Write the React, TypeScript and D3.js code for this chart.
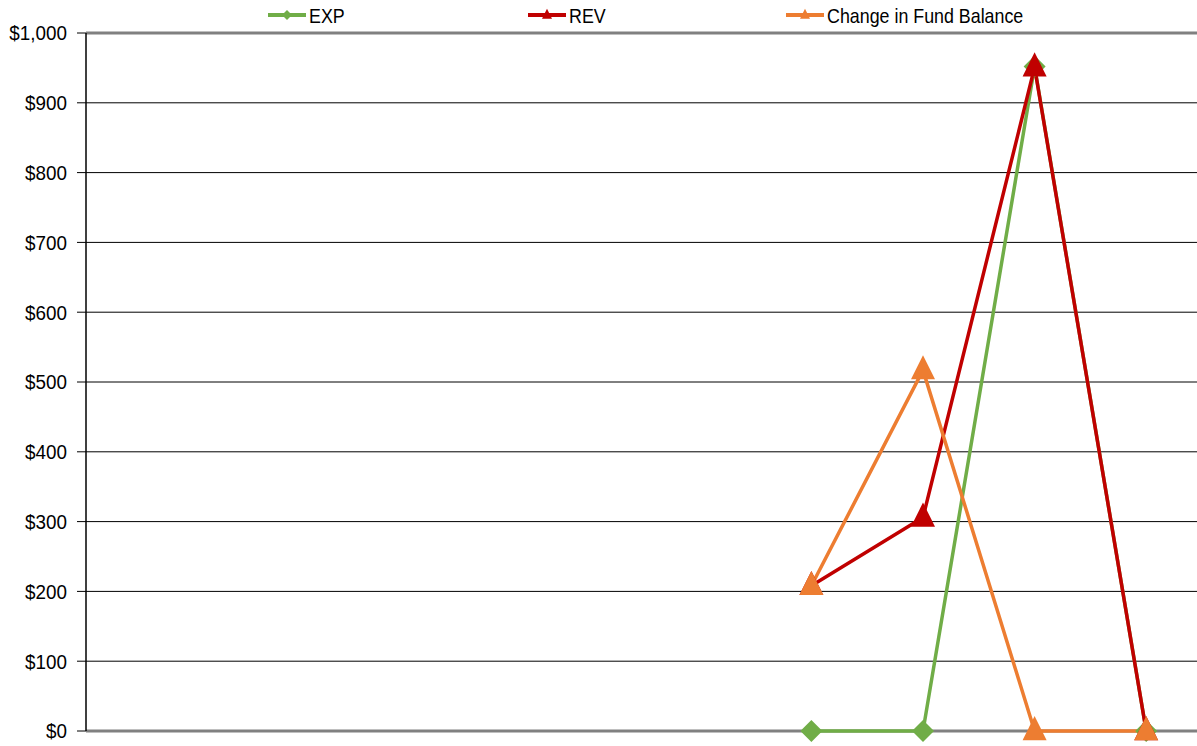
import React from "react";
import * as d3 from "d3";

const categories = ["P1", "P2", "P3", "P4", "P5", "P6", "P7", "P8", "P9", "P10"];
const expValues: (number | null)[] = [null, null, null, null, null, null, 0, 0, 952, 0];
const revValues: (number | null)[] = [null, null, null, null, null, null, 208, 306, 951, 0];
const fundValues: (number | null)[] = [null, null, null, null, null, null, 208, 517, 0, 0];
const yTicks = [0, 100, 200, 300, 400, 500, 600, 700, 800, 900, 1000];

const series = [
  { name: "EXP", values: expValues, color: "#70AD47", marker: "diamond" },
  { name: "REV", values: revValues, color: "#C00000", marker: "triangle" },
  { name: "Change in Fund Balance", values: fundValues, color: "#ED7D31", marker: "triangle" },
];

const W = 1197;
const H = 746;
const left = 86;
const right = 1202;
const top = 33;
const bottom = 731;

export default function App() {
  const x = d3.scaleBand<string>().domain(categories).range([left, right]);
  const y = d3.scaleLinear().domain([0, 1000]).range([bottom, top]);
  const cx = (c: string) => (x(c) as number) + x.bandwidth() / 2;
  const fmt = (v: number) => "$" + d3.format(",")(v);

  const markerPath = (type: string, size: number) => {
    if (type === "diamond") {
      const h = size / 2;
      return `M0,${-h}L${h},0L0,${h}L${-h},0Z`;
    }
    const w = size / 2;
    const hh = size * 0.62;
    return `M0,${-hh}L${w},${hh * 0.62}L${-w},${hh * 0.62}Z`;
  };

  const legendItems = [
    { s: series[0], x: 268 },
    { s: series[1], x: 528 },
    { s: series[2], x: 786 },
  ];

  return (
    <svg width={W} height={H} style={{ position: "absolute", left: 0, top: 0, background: "#fff" }} fontFamily="'Liberation Sans', Arial, sans-serif">
      {/* gridlines */}
      {yTicks.map((t) => {
        const yy = y(t);
        const isEdge = t === 0 || t === 1000;
        return (
          <line key={t} x1={left} x2={W} y1={yy} y2={yy}
            stroke={isEdge ? "#808080" : "#000"} strokeWidth={isEdge ? 3 : 1} />
        );
      })}
      {/* y axis */}
      <line x1={left} x2={left} y1={top} y2={bottom} stroke="#000" strokeWidth={1.5} />
      {yTicks.map((t) => (
        <g key={"t" + t}>
          <line x1={left - 9} x2={left} y1={y(t)} y2={y(t)} stroke="#000" strokeWidth={1} />
          <text transform={`translate(67,${y(t)}) scale(0.92,1)`} dy="0.36em" textAnchor="end" fontSize={20.5} fill="#000">{fmt(t)}</text>
        </g>
      ))}
      {/* series lines */}
      {series.map((s) => {
        const line = d3.line<number | null>()
          .defined((d) => d !== null)
          .x((_, i) => cx(categories[i]))
          .y((d) => y(d as number));
        return (
          <path key={s.name} d={line(s.values) || ""} fill="none" stroke={s.color} strokeWidth={3.5} strokeLinejoin="round" />
        );
      })}
      {/* markers */}
      {series.map((s) => (
        <g key={"m" + s.name}>
          {s.values.map((v, i) =>
            v === null ? null : (
              <path key={i} transform={`translate(${cx(categories[i])},${y(v)})`}
                d={markerPath(s.marker, s.marker === "diamond" ? 22 : 24)} fill={s.color} />
            )
          )}
        </g>
      ))}
      {/* legend */}
      {legendItems.map(({ s, x: lx }) => (
        <g key={"l" + s.name}>
          <line x1={lx} x2={lx + 38} y1={15} y2={15} stroke={s.color} strokeWidth={4} />
          <path transform={`translate(${lx + 19},15)`} d={markerPath(s.marker, 10)} fill={s.color} />
          <text transform={`translate(${lx + 41},15) scale(0.85,1)`} dy="0.36em" fontSize={21} fill="#000">{s.name}</text>
        </g>
      ))}
    </svg>
  );
}
